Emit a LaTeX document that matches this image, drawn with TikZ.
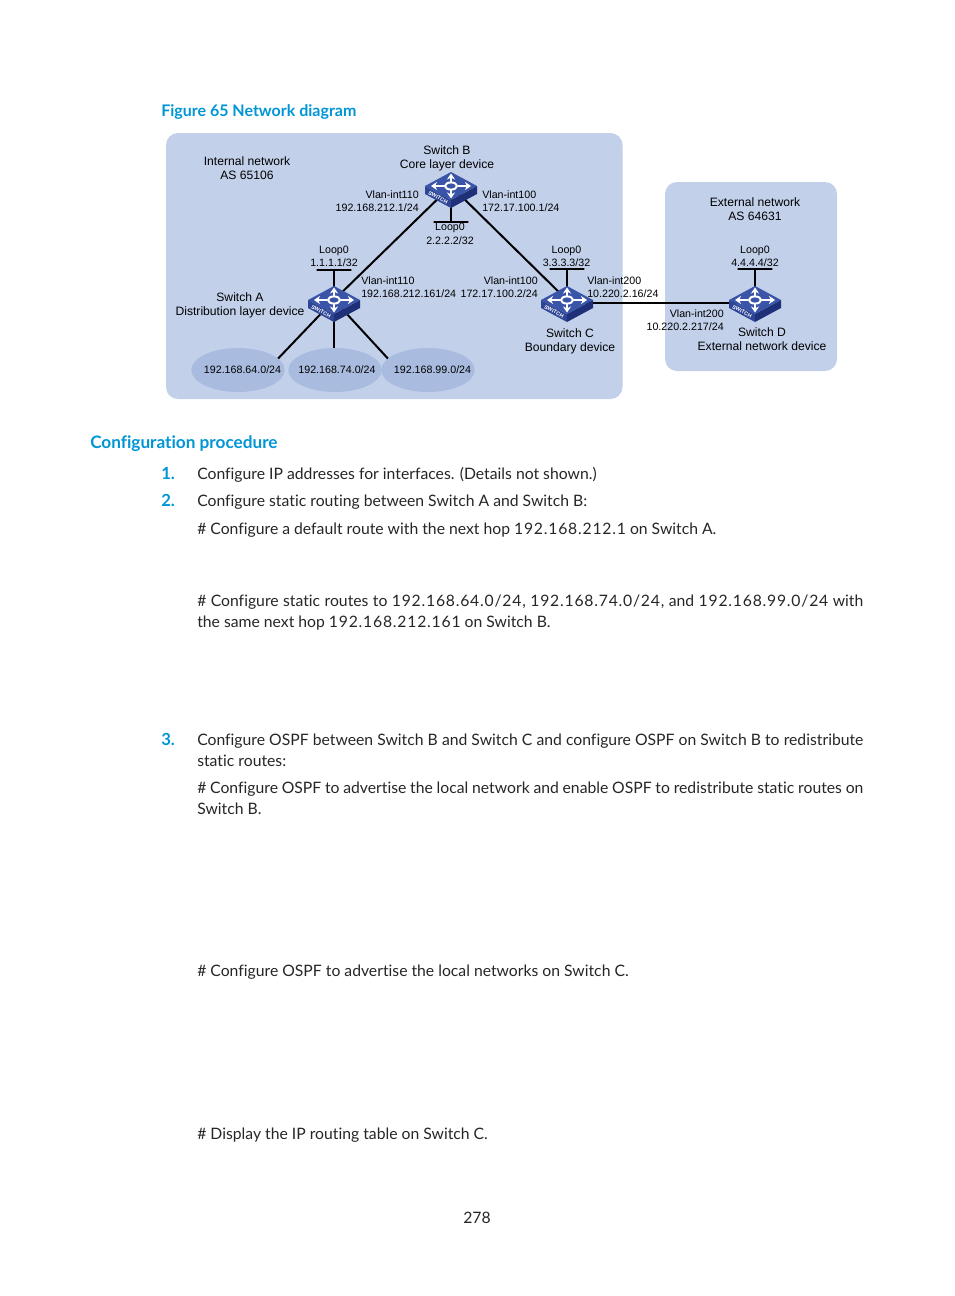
\documentclass[tikz,border=0pt]{standalone}
\usepackage{fontspec}
\usepackage{xcolor}
\usetikzlibrary{arrows.meta}
\usetikzlibrary{positioning, shapes.geometric}
\setmainfont{Lato}[Ligatures=NoCommon]
\newfontfamily\diagfont{Liberation Sans}
\definecolor{areablue}{HTML}{C2D0EA}
\definecolor{netblue}{HTML}{A9BCE0}
\definecolor{headblue}{HTML}{0096D6}
\definecolor{swtop}{HTML}{3A55A8}
\definecolor{swleft}{HTML}{2E4596}
\definecolor{swright}{HTML}{1F3078}
\newcommand{\fullline}[1]{\makebox[499.5pt][s]{#1}}
\newcommand{\ipnum}[1]{{\addfontfeature{LetterSpace=5}#1}}
\tikzset{
    area/.style={fill=areablue, rounded corners=9pt},
    netcloud/.style={ellipse, fill=netblue, minimum width=70pt, minimum height=33pt, inner sep=0pt},
    link/.style={line width=1.5pt, black},
    loopbar/.style={draw, line width=1.5pt, minimum width=26pt, minimum height=0pt, inner sep=0pt},
    lbl/.style={font=\diagfont\fontsize{8}{10}\selectfont, align=center, inner sep=0pt},
    lblleft/.style={lbl, align=left, anchor=west},
    lblright/.style={lbl, align=right, anchor=east},
    devlbl/.style={font=\diagfont\fontsize{9.1}{10.5}\selectfont, align=center, inner sep=0pt},
    bodyline/.style={font=\fontsize{11.8}{15.75}\selectfont, anchor=base west, inner sep=0pt, align=left, text=black!85},
    stepnum/.style={font=\bfseries\fontsize{12.5}{14}\selectfont, anchor=base west, inner sep=0pt, text=headblue},
    headline/.style={font=\bfseries\fontsize{12}{14}\selectfont, anchor=base west, inner sep=0pt, text=headblue},
    pics/switch/.style={code={
        \fill[swleft] (-26,0) -- (0,14) -- (0,22) -- (-26,8) -- cycle;
        \fill[swright] (26,0) -- (0,14) -- (0,22) -- (26,8) -- cycle;
        \fill[swtop] (-26,0) -- (0,-14) -- (26,0) -- (0,14) -- cycle;
        \foreach \tipx/\tipy/\startx/\starty in {20/0/7/0, -20/0/-7/0, 0/-12.5/0/-4, 0/12.5/0/4} {
            \draw[white, line width=1.5pt, -{Stealth[length=4.5pt,width=6pt]}] (\startx,\starty) -- (\tipx,\tipy);
        }
        \draw[white, line width=1.5pt] (0,0) ellipse [x radius=6, y radius=3.6];
        \node[text=white, rotate=-28, inner sep=0pt, font=\diagfont\bfseries\fontsize{4}{4}\selectfont] at (-13,11.5) {SWITCH};
    }},
}
\begin{document}
\begin{tikzpicture}[x=0.75pt, y=-0.75pt]
    \useasboundingbox (0,0) rectangle (954,1296);

    \node[headline] (figtitle) at (161,116) {Figure 65 Network diagram};

    \fill[area] (166,133) rectangle (622.5,399);
    \fill[area] (665,182) rectangle (837,371);

    \node[netcloud, label={[lbl,xshift=3.4pt]center:192.168.64.0/24}] (neta) at (238,370) {};
    \node[netcloud, label={[lbl,xshift=1.5pt]center:192.168.74.0/24}] (netb) at (335,370) {};
    \node[netcloud, label={[lbl,xshift=3.4pt]center:192.168.99.0/24}] (netc) at (428,370) {};

    \coordinate (swa) at (334,300);
    \coordinate (swb) at (451,186);
    \coordinate (swc) at (567,300);
    \coordinate (swd) at (755,300);

    \node[loopbar, above=22pt of swa] (loopa) {};
    \node[loopbar, below=26pt of swb] (loopb) {};
    \node[loopbar, above=22.5pt of swc] (loopc) {};
    \node[loopbar, above=22.5pt of swd] (loopd) {};

    \draw[link] (swa) -- (swb);
    \draw[link] (swb) -- (swc);
    \draw[link] ([yshift=-2pt]swc) -- ([yshift=-2pt]swd);
    \draw[link] (swa) -- (neta.16);
    \draw[link] (swa) -- (netb.north -| swa);
    \draw[link] (swa) -- (netc.164);
    \draw[link] (swa) -- (loopa);
    \draw[link] (swb) -- (loopb);
    \draw[link] (swc) -- (loopc);
    \draw[link] (swd) -- (loopd);

    \pic at (swa) {switch};
    \pic at (swb) {switch};
    \pic at (swc) {switch};
    \pic at (swd) {switch};

    \node[devlbl] (areaint) at (247,168) {Internal network\\AS 65106};
    \node[devlbl] (areaext) at (755,209) {External network\\AS 64631};
    \node[devlbl] (nameb) at (447,158) {Switch B\\Core layer device};
    \node[devlbl] (namea) at (240,305) {Switch A\\Distribution layer device};
    \node[devlbl] (namec) at (570,341) {Switch C\\Boundary device};
    \node[devlbl] (named) at (762,339) {Switch D\\External network device};
    \node[lbl] (ida) at (334,256.2) {Loop0\\1.1.1.1/32};
    \node[lbl] (idb) at (450,233.7) {Loop0\\2.2.2.2/32};
    \node[lbl] (idc) at (566.5,256.2) {Loop0\\3.3.3.3/32};
    \node[lbl] (idd) at (755,256.2) {Loop0\\4.4.4.4/32};
    \node[lblright] (ifba) at (419,201.2) {Vlan-int110\\192.168.212.1/24};
    \node[lblleft] (ifbc) at (482,201.2) {Vlan-int100\\172.17.100.1/24};
    \node[lblleft] (ifab) at (361,287.2) {Vlan-int110\\192.168.212.161/24};
    \node[lblright] (ifcb) at (538,287.2) {Vlan-int100\\172.17.100.2/24};
    \node[lblleft] (ifcd) at (587,287.2) {Vlan-int200\\10.220.2.16/24};
    \node[lblright] (ifdc) at (724,320.2) {Vlan-int200\\10.220.2.217/24};

    \node[headline, font=\bfseries\fontsize{12.9}{14}\selectfont] (proctitle) at (90,448) {Configuration procedure};
    \node[stepnum] (numa) at (161,479) {1.};
    \node[stepnum] (numb) at (161,506) {2.};
    \node[stepnum] (numc) at (161,745) {3.};
    \node[bodyline] (linea) at (197,479) {Configure IP addresses for interfaces. (Details not shown.)};
    \node[bodyline] (lineb) at (197,506) {Configure static routing between Switch A and Switch B:};
    \node[bodyline] (linec) at (197,534) {\# Configure a default route with the next hop \ipnum{192.168.212.1} on Switch A.};
    \node[bodyline] (lined) at (197,606) {\fullline{\# Configure static routes to \ipnum{192.168.64.0/24,} \ipnum{192.168.74.0/24,} and \ipnum{192.168.99.0/24} with}};
    \node[bodyline] (linee) at (197,627) {the same next hop \ipnum{192.168.212.161} on Switch B.};
    \node[bodyline] (linef) at (197,745) {\fullline{Configure OSPF between Switch B and Switch C and configure OSPF on Switch B to redistribute}};
    \node[bodyline] (lineg) at (197,766) {static routes:};
    \node[bodyline] (lineh) at (197,793) {\fullline{\# Configure OSPF to advertise the local network and enable OSPF to redistribute static routes on}};
    \node[bodyline] (linei) at (197,814) {Switch B.};
    \node[bodyline] (linej) at (197,976) {\# Configure OSPF to advertise the local networks on Switch C.};
    \node[bodyline] (linek) at (197,1139) {\# Display the IP routing table on Switch C.};
    \node[bodyline, anchor=base] (pagenum) at (477,1223) {278};
\end{tikzpicture}
\end{document}
